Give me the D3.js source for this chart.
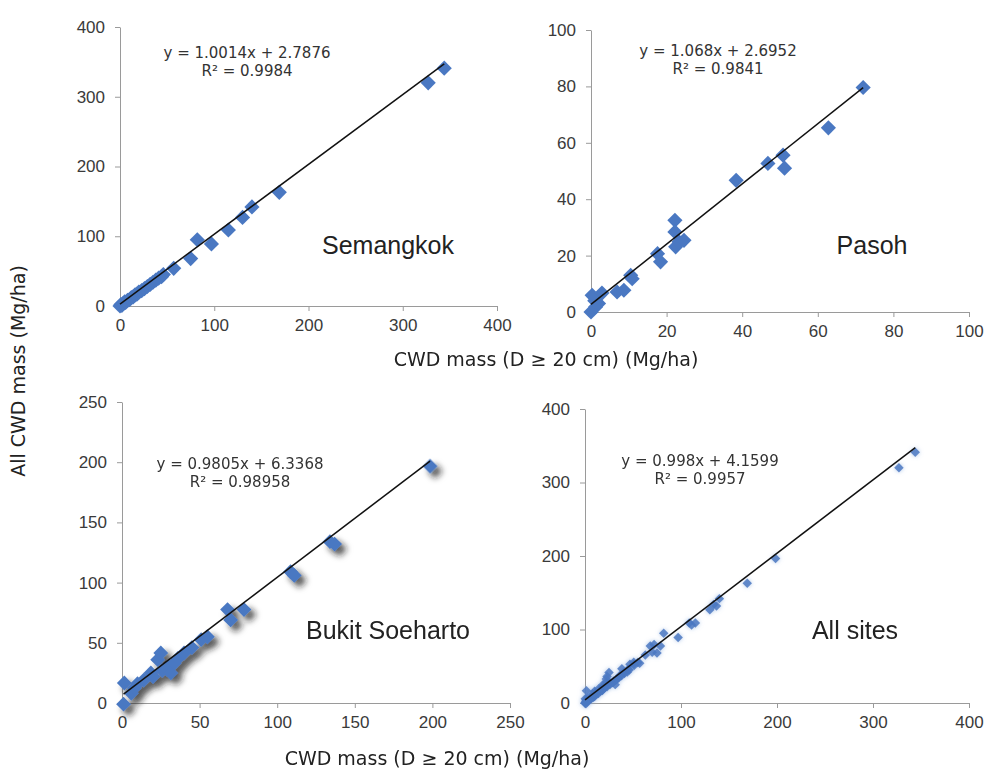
<!DOCTYPE html>
<html>
<head>
<meta charset="utf-8">
<script src="https://cdn.jsdelivr.net/npm/d3@7"></script>
<style>
  body { margin: 0; background: #fff; }
  svg { display: block; }
  .tick text { font-family: 'Liberation Sans', Arial, sans-serif; font-size: 17px; fill: #3a3a3a; }
  .domain, .tick line { stroke: #9a9a9a; }
</style>
</head>
<body>
<svg id="chart"></svg>
<script>
// site data: [CWD mass D>=20 cm, all CWD mass] in Mg/ha
const semangkok = [
  [0, 0], [1, 2], [2, 1], [3, 3], [4, 4], [5, 6], [6, 5], [8, 8], [10, 9], [12, 12],
  [14, 13], [16, 16], [18, 17], [20, 20], [23, 22], [26, 25], [29, 28], [32, 31],
  [35, 34], [38, 37], [41, 40], [44, 42], [46, 45], [57, 54], [75, 68], [82, 95],
  [97, 89], [115, 109], [130, 127], [140, 142], [169, 163], [327, 320], [344, 341]
];
const pasoh = [
  [0, 0], [0.3, 5.9], [1.2, 1.8], [2, 3], [2.9, 6.7], [1, 4], [6.9, 7.1], [8.7, 7.7],
  [10.5, 13], [10.9, 11.8], [17.6, 20.7], [18.4, 17.8], [22.2, 32.5], [22.2, 28.4],
  [22.4, 23.1], [23.3, 24.9], [24.6, 25.4], [38.4, 46.7], [46.8, 52.7], [50.8, 55.6],
  [51.2, 51], [62.8, 65.3], [72, 79.6]
];
const bukit = [
  [1, -1], [1.5, 16.6], [6, 8], [8, 12.5], [10, 16], [14, 19], [18.6, 25], [20, 22],
  [23, 36], [25, 41.5], [26, 27], [29, 28], [30, 30], [31.5, 25], [33.6, 33], [36, 37],
  [40, 41.5], [45, 46], [51, 52.6], [55, 55], [68, 77.6], [70, 69], [78.6, 77.6],
  [108.6, 109], [111, 106], [134, 134], [137, 132], [198.5, 196.7]
];
const allSites = semangkok.concat(pasoh, bukit);

const siteNames = ['Semangkok', 'Pasoh', 'Bukit Soeharto', 'All sites'];
const slopes = [1.0014, 1.068, 0.9805, 0.998];
const intercepts = [2.7876, 2.6952, 6.3368, 4.1599];
const eqLabels = ['y = 1.0014x + 2.7876', 'y = 1.068x + 2.6952', 'y = 0.9805x + 6.3368', 'y = 0.998x + 4.1599'];
const r2Labels = ['R² = 0.9984', 'R² = 0.9841', 'R² = 0.98958', 'R² = 0.9957'];
const axisMax = [400, 100, 250, 400];
const tickSteps = [100, 20, 50, 100];
const xTitle = 'CWD mass (D ≥ 20 cm) (Mg/ha)';
const yTitle = 'All CWD mass (Mg/ha)';

const W = 986, H = 772;
const svg = d3.select('#chart').attr('width', W).attr('height', H);

// shadow used by the Bukit Soeharto panel
const defs = svg.append('defs');
const sh = defs.append('filter').attr('id', 'shadow')
  .attr('x', '-100%').attr('y', '-100%').attr('width', '300%').attr('height', '300%');
sh.append('feDropShadow').attr('dx', 5).attr('dy', 5).attr('stdDeviation', 3)
  .attr('flood-color', '#1a1a1a').attr('flood-opacity', 0.75);
const glow = defs.append('filter').attr('id', 'glow')
  .attr('x', '-100%').attr('y', '-100%').attr('width', '300%').attr('height', '300%');
glow.append('feDropShadow').attr('dx', 0).attr('dy', 0).attr('stdDeviation', 2)
  .attr('flood-color', '#8fb0e0').attr('flood-opacity', 0.8);

// panel boxes (pixel ranges of the plot area)
const panels = [
  { data: semangkok, x0: 120, x1: 497, y0: 306, y1: 27, eq: [247, 58], site: [388, 254], size: 115 },
  { data: pasoh, x0: 591, x1: 969, y0: 312, y1: 30, eq: [718, 56], site: [872, 254], size: 115 },
  { data: bukit, x0: 122, x1: 510, y0: 703, y1: 402, eq: [240, 469], site: [388, 639], size: 110, filter: 'url(#shadow)' },
  { data: allSites, x0: 585, x1: 969, y0: 703, y1: 409, eq: [700, 466], site: [855, 639], size: 45, filter: 'url(#glow)' }
];

panels.forEach((p, i) => {
  const x = d3.scaleLinear().domain([0, axisMax[i]]).range([p.x0, p.x1]);
  const y = d3.scaleLinear().domain([0, axisMax[i]]).range([p.y0, p.y1]);
  const ticks = d3.range(0, axisMax[i] + 1, tickSteps[i]);
  const g = svg.append('g');

  g.append('g')
    .attr('transform', `translate(0,${p.y0})`)
    .call(d3.axisBottom(x).tickValues(ticks).tickSize(5).tickPadding(7).tickSizeOuter(0))
    .call(a => a.selectAll('.tick text').attr('dy', '0.75em'));
  g.append('g')
    .attr('transform', `translate(${p.x0},0)`)
    .call(d3.axisLeft(y).tickValues(ticks).tickSize(5).tickPadding(10).tickSizeOuter(0));

  // markers: squares turned 45 degrees
  const sym = d3.symbol().type(d3.symbolSquare).size(p.size);
  g.append('g')
    .attr('filter', p.filter || null)
    .selectAll('path')
    .data(p.data)
    .enter()
    .append('path')
    .attr('d', sym)
    .attr('transform', d => `translate(${x(d[0])},${y(d[1])}) rotate(45)`)
    .attr('fill', '#4a78c2')
    .attr('fill-opacity', i === 3 ? 0.85 : 1);

  // trend line over the data's x span
  const xs = d3.extent(p.data, d => d[0]);
  g.append('line')
    .attr('x1', x(xs[0])).attr('y1', y(slopes[i] * xs[0] + intercepts[i]))
    .attr('x2', x(xs[1])).attr('y2', y(slopes[i] * xs[1] + intercepts[i]))
    .attr('stroke', '#111').attr('stroke-width', 1.5);

  g.append('text')
    .attr('x', p.eq[0]).attr('y', p.eq[1])
    .attr('text-anchor', 'middle')
    .style('font-family', 'DejaVu Sans, sans-serif').style('font-size', '15px').attr('fill', '#333')
    .text(eqLabels[i]);
  g.append('text')
    .attr('x', p.eq[0]).attr('y', p.eq[1] + 18)
    .attr('text-anchor', 'middle')
    .style('font-family', 'DejaVu Sans, sans-serif').style('font-size', '15px').attr('fill', '#333')
    .text(r2Labels[i]);

  g.append('text')
    .attr('x', p.site[0]).attr('y', p.site[1])
    .attr('text-anchor', 'middle')
    .style('font-family', 'Liberation Sans, Arial, sans-serif').style('font-size', '25px').attr('fill', '#222')
    .text(siteNames[i]);
});

// shared axis titles
svg.append('text')
  .attr('x', 546).attr('y', 366)
  .attr('text-anchor', 'middle')
  .style('font-family', 'DejaVu Sans, sans-serif').style('font-size', '19px').attr('fill', '#222')
  .text(xTitle);
svg.append('text')
  .attr('x', 437).attr('y', 765)
  .attr('text-anchor', 'middle')
  .style('font-family', 'DejaVu Sans, sans-serif').style('font-size', '19px').attr('fill', '#222')
  .text(xTitle);
svg.append('text')
  .attr('transform', 'translate(25,371) rotate(-90)')
  .attr('text-anchor', 'middle')
  .style('font-family', 'DejaVu Sans, sans-serif').style('font-size', '19px').attr('fill', '#222')
  .text(yTitle);
</script>
</body>
</html>
